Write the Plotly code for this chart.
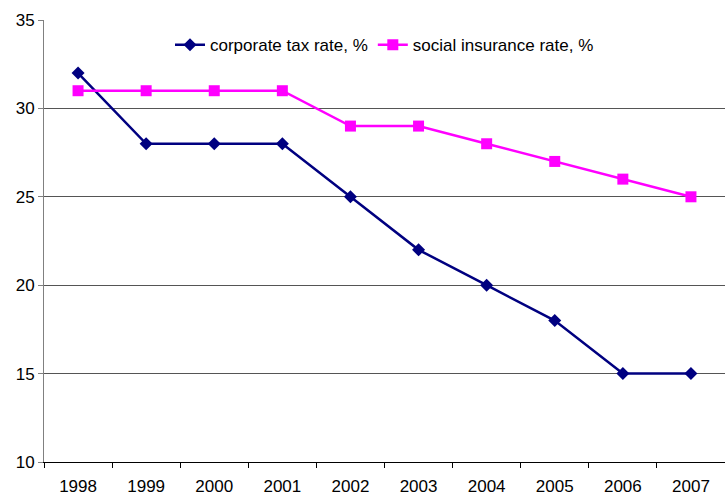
import plotly.graph_objects as go

years = ["1998", "1999", "2000", "2001", "2002", "2003", "2004", "2005", "2006", "2007"]
corporate_tax = [32, 28, 28, 28, 25, 22, 20, 18, 15, 15]
social_insurance = [31, 31, 31, 31, 29, 29, 28, 27, 26, 25]

fig = go.Figure()
fig.add_trace(go.Scatter(
    x=years, y=corporate_tax, name="corporate tax rate, %",
    mode="lines+markers",
    line=dict(color="#000080", width=2.5),
    marker=dict(symbol="diamond", size=10, color="#000080"),
))
fig.add_trace(go.Scatter(
    x=years, y=social_insurance, name="social insurance rate, %",
    mode="lines+markers",
    line=dict(color="#FF00FF", width=2.5),
    marker=dict(symbol="square", size=11, color="#FF00FF"),
))

fig.update_layout(
    width=725, height=496,
    margin=dict(l=44, r=0, t=20, b=34),
    paper_bgcolor="white", plot_bgcolor="white",
    font=dict(family="Liberation Sans, Arial, sans-serif", size=17, color="black"),
    showlegend=True,
    legend=dict(orientation="h", x=0.5, xanchor="center", y=0.943, yanchor="middle",
                bgcolor="rgba(0,0,0,0)", font=dict(size=17), itemwidth=30,
                tracegroupgap=0),
    xaxis=dict(type="category", tickson="boundaries", ticks="outside", ticklen=5,
               tickcolor="black", showline=True, linecolor="black", linewidth=1,
               showgrid=False, range=[-0.5, 9.5], tickfont=dict(size=17),
               ticklabelstandoff=9, automargin=False),
    yaxis=dict(range=[10, 35], dtick=5, ticks="outside", ticklen=5, tickcolor="#808080",
               showline=True, linecolor="#808080", linewidth=1,
               showgrid=True, gridcolor="#555555", gridwidth=1,
               zeroline=False, tickfont=dict(size=17), automargin=False),
)

fig.write_html("out.html")
